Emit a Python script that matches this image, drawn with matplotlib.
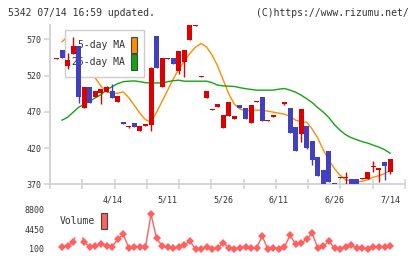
import matplotlib
matplotlib.use("Agg")
import matplotlib.pyplot as plt
import numpy as np
from matplotlib.patches import Patch

plt.rcParams["font.family"] = ["DejaVu Sans Mono"]

# daily candles (index = trading day)
opens = [543.5, 555, 533.5, 550.6, 560.7, 475.5, 503.7, 490, 495.4, 497.6,
         498.6, 483.8, 455.4, 448.9, 454, 444.3, 451.2, 451.6, 574.6, 504.5,
         543.5, 543.8, 526.6, 539, 569, 588.8, 518.4, 489.4, 472.8, 476.5,
         447.9, 464, 460, 479.3, 476, 454.4, 483.9, 490.3, 457.6, 462.7,
         471, 480.6, 475.1, 449.3, 439.6, 450.3, 429.6, 407.5, 389.5, 415.5,
         372, 378.8, 378.8, 378, 377, 377.5, 377, 393.6, 390, 400.5,
         387]
closes = [544.3, 544, 541.4, 560.7, 489.9, 503.7, 482.4, 499, 501.4, 504.5,
          489.4, 491.7, 452.6, 451.2, 449.3, 451.2, 452.6, 530, 530, 543.8,
          544.3, 536.3, 553.8, 555.2, 590, 589.8, 519.3, 498.6, 473.7, 480.6,
          465.4, 483.4, 463.7, 475.1, 460, 479.3, 484.8, 457.6, 458.6, 465.4,
          471.9, 483.4, 441, 416.2, 473.7, 420.3, 402.9, 381.6, 368, 373,
          370.8, 379.8, 379.8, 369, 369, 378.5, 386.7, 394.6, 392.3, 395.4,
          404.7]
highs = [544.3, 555, 551, 573.6, 560.7, 503.7, 503.7, 499, 501.4, 505.5,
         509, 491.7, 456.2, 451.2, 454, 451.2, 452.6, 532.2, 574.6, 543.8,
         544.3, 543.8, 553.8, 555.2, 590, 589.8, 519.3, 498.6, 473.7, 480.6,
         465.4, 483.4, 463.7, 479.3, 476, 479.3, 484.8, 490.3, 458.6, 465.4,
         471.9, 483.4, 475.1, 449.3, 473.7, 450.3, 429.6, 407.5, 389.5, 415.5,
         372, 379.8, 387, 378, 377, 378.5, 386.7, 402, 392.3, 400.5,
         404.7]
lows = [543.5, 544, 529.7, 550.6, 482.4, 475.5, 482.4, 490, 480.6, 497.6,
        489.4, 483.8, 452.6, 448.3, 449.3, 444.3, 451.2, 444.3, 530, 504.5,
        543.5, 536.3, 523, 518.4, 569, 588.8, 518.4, 489.4, 472.8, 476.5,
        447.9, 464, 460, 475.1, 460, 454.4, 483.9, 457.6, 457.6, 462.7,
        471, 479.3, 441, 416.2, 428.6, 419, 396.4, 381.6, 368, 373,
        370.8, 378.8, 368, 369, 369, 377.5, 377, 386.7, 373.3, 375.7,
        384.5]

ma5 = [np.nan, 567, 574, 562, 541, 530, 525, 516.6, 505.5, 497.9,
       495.4, 495.8, 497.6, 489.6, 479, 468.2, 459.2, 455.8, 469.6, 484.8,
       500, 515.6, 529, 540, 551, 559.4, 564.5, 559.4, 548.3, 533.1,
       513.8, 494.5, 480.6, 473.7, 471.7, 472.4, 472.4, 472.4, 471, 469.6,
       468.2, 466.8, 464, 458.6, 456.5, 455.8, 446.1, 433.7, 417.1, 403.3,
       391.6, 382.6, 376.4, 374.3, 373.3, 374.3, 376.4, 379.8, 381.9, 384.7,
       389.5]
ma25 = [np.nan, 458.6, 462.6, 469.6, 476.5, 480.6, 484.8, 489.6, 493.8, 500.7,
        504.8, 509, 511.7, 512.4, 512.8, 511.7, 510.3, 510, 510, 510,
        511.7, 513.1, 513.8, 512.4, 512.4, 512.4, 512.4, 512.4, 510.3, 506.9,
        505.9, 505.5, 505.1, 503.4, 502.1, 501, 500, 500, 500, 500,
        501.4, 502.3, 500, 497.2, 493.1, 488.2, 482.7, 475.8, 469.6, 462,
        452.3, 444.7, 438.5, 434.4, 431.6, 428.9, 426.8, 424, 421.3, 417.8,
        413]

volume = [np.nan, 600, 820, 1560, 5300, 1560, 600, 820, 1120, 820,
          600, 2210, 3300, 380, 470, 470, 470, 7710, 2430, 820,
          470, 380, 600, 970, 1840, 100, 100, 470, 100, 380,
          1470, 380, 100, 380, 600, 380, 380, 2930, 100, 380,
          100, 530, 3150, 1120, 1340, 2280, 3520, 250, 750, 1840,
          250, 100, 470, 970, 250, 250, 100, 470, 470, 470,
          750]

date_pos = [10, 20, 30, 40, 50, 60]
date_labels = ["4/14", "5/11", "5/26", "6/11", "6/26", "7/14"]
price_ticks = [370, 420, 470, 520, 570]
vol_ticks = [100, 4450, 8800]

UP, DOWN = "#dd0000", "#4040c0"
ORANGE, GREEN, VOLC = "#ff8c00", "#11a611", "#ff6060"
GRID, TXT = "#d4d4d4", "#333333"
XLIM = (-1.17, 62.68)

# shared look of both legends: text first, tall narrow swatch after it
LEG_KW = dict(loc="upper left", borderaxespad=0, markerfirst=False,
              handlelength=0.62, handleheight=2.15, labelspacing=0.1,
              handletextpad=0.6, borderpad=0.72, fancybox=False,
              framealpha=1, fontsize=7, labelcolor=TXT)

fig = plt.figure(figsize=(4.2, 2.59), dpi=100)
ax = fig.add_axes([50 / 420, 74.7 / 259, 355 / 420, 159.3 / 259])
vax = fig.add_axes([50 / 420, 10 / 259, 355 / 420, 39.7 / 259])

x = np.arange(len(opens))
o = np.array(opens)
c = np.array(closes)
colors = np.where(c >= o, UP, DOWN)

ax.plot(x, ma5, color=ORANGE, lw=1, zorder=1.5)
ax.plot(x, ma25, color=GREEN, lw=1, zorder=1.5)
ax.vlines(x, lows, highs, colors=colors, lw=1, zorder=3)
ax.bar(x, np.maximum(np.abs(c - o), 0.9), bottom=np.minimum(o, c),
       width=0.9, color=colors, lw=0, zorder=3)

ax.set_xlim(*XLIM)
ax.set_ylim(370, 590)
ax.set_yticks(price_ticks)
ax.set_xticks(date_pos)
ax.set_xticklabels(date_labels)
ax.set_xticks(np.linspace(*XLIM, 12), minor=True)
ax.tick_params(axis="x", which="major", length=0, pad=8, labelsize=6, labelcolor=TXT)
ax.tick_params(axis="x", which="minor", direction="inout", length=7, width=1.2, color=GRID)
ax.tick_params(axis="y", length=4, width=1.2, color=GRID, pad=2, labelsize=6, labelcolor=TXT)
for s in ("top", "right"):
    ax.spines[s].set_visible(False)
for s in ("left", "bottom"):
    ax.spines[s].set_color(GRID)
    ax.spines[s].set_linewidth(1.4)

leg = ax.legend([Patch(facecolor=ORANGE, edgecolor="#444444", lw=0.8),
                 Patch(facecolor=GREEN, edgecolor="#444444", lw=0.8)],
                ["5-day MA", "25-day MA"], bbox_to_anchor=(0.042, 0.969),
                edgecolor="#cccccc", **LEG_KW)
leg.get_frame().set_linewidth(1.0)
leg.set_zorder(2.5)  # above the MA lines, below the candles

# volume panel
vax.plot(x, volume, color=VOLC, lw=1, marker="D", ms=4.5, mew=0, clip_on=False)
vax.set_xlim(*XLIM)
vax.set_ylim(100, 8800)
vax.set_yticks(vol_ticks)
vax.set_xticks([])
vax.tick_params(axis="y", length=0, pad=4, labelsize=6, labelcolor=TXT)
for s in vax.spines.values():
    s.set_visible(False)
vax.legend([Patch(facecolor=VOLC, edgecolor="#444444", lw=0.8)], ["Volume"],
           bbox_to_anchor=(0.0085, 1.083), edgecolor="white", **LEG_KW)

fig.text(8 / 420, 1 - 12.5 / 259, "5342 07/14 16:59 updated.", fontsize=7,
         color=TXT, ha="left", va="center")
fig.text(409 / 420, 1 - 12.5 / 259, "(C)https://www.rizumu.net/", fontsize=7,
         color=TXT, ha="right", va="center")

fig.savefig("out.png", dpi=100)
